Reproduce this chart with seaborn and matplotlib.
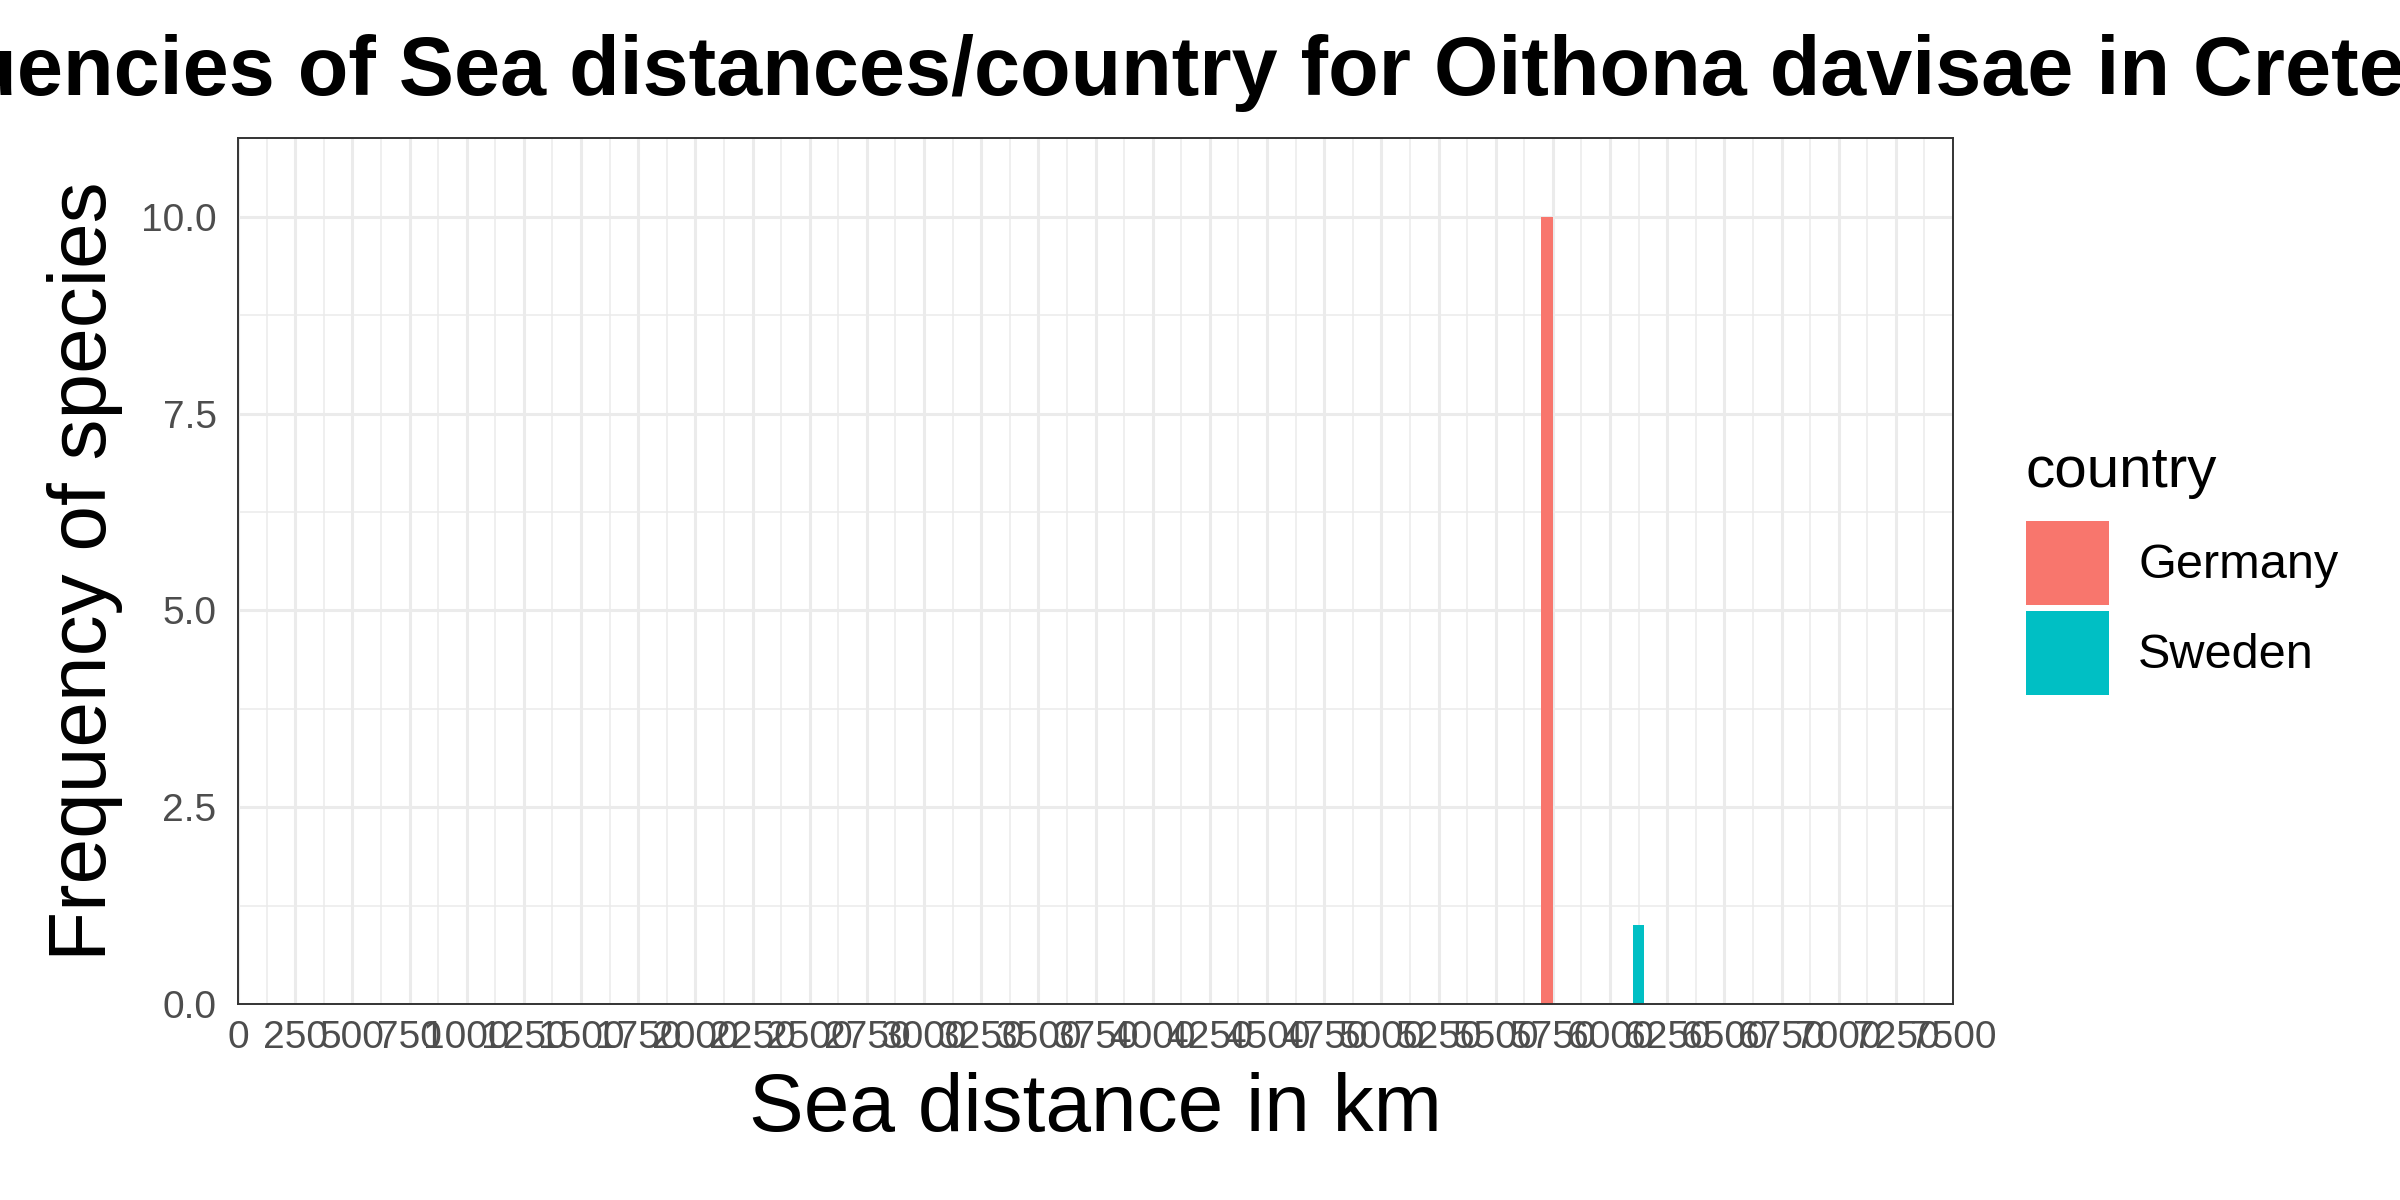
import matplotlib
matplotlib.use('Agg')
import matplotlib.pyplot as plt
from matplotlib.patches import Patch
import pandas as pd
import seaborn as sns

# sea distance (km, bin centre) and number of records, one row per country
distance_km = [5725, 6125]
frequency = [10, 1]
country = ['Germany', 'Sweden']
country_colors = ['#F8766D', '#00BFC4']

x_ticks = list(range(0, 7501, 250))
x_minor = list(range(125, 7500, 250))
y_ticks = [0.0, 2.5, 5.0, 7.5, 10.0]
y_minor = [1.25, 3.75, 6.25, 8.75]

title = 'Frequencies of Sea distances/country for Oithona davisae in Crete'

df = pd.DataFrame({'distance': distance_km, 'frequency': frequency, 'country': country})
palette = dict(zip(country, country_colors))

sns.set_theme(style='white')
plt.rcParams['font.family'] = ['Liberation Sans', 'DejaVu Sans']
plt.rcParams['text.color'] = 'black'
plt.rcParams['axes.labelcolor'] = 'black'
plt.rcParams['axes.titlecolor'] = 'black'

W, H = 2400, 1200
fig = plt.figure(figsize=(12, 6), dpi=200)
# panel box in pixels: left 238, right 1953, top 138, bottom 1004
ax = fig.add_axes([238 / W, 1 - 1004 / H, (1953 - 238) / W, (1004 - 138) / H])

sns.histplot(data=df, x='distance', weights='frequency', hue='country',
             palette=palette, binwidth=50, binrange=(0, 7500), alpha=1,
             linewidth=0, multiple='layer', legend=False, ax=ax)

ax.set_xlim(0, 7500)
ax.set_ylim(0, 11)
ax.set_xticks(x_ticks)
ax.set_xticklabels([str(t) for t in x_ticks])
ax.set_xticks(x_minor, minor=True)
ax.set_yticks(y_ticks)
ax.set_yticklabels([f'{t:.1f}' for t in y_ticks])
ax.set_yticks(y_minor, minor=True)

ax.set_axisbelow(True)
ax.grid(which='major', color='#EBEBEB', linewidth=1.1)
ax.grid(which='minor', color='#EBEBEB', linewidth=0.55)
for side in ['left', 'right', 'top', 'bottom']:
    ax.spines[side].set_visible(True)
    ax.spines[side].set_color('#333333')
    ax.spines[side].set_linewidth(0.7)

ax.tick_params(which='major', length=4.2, width=1.0, color='#333333',
               labelsize=14, labelcolor='#4D4D4D')
ax.tick_params(axis='x', which='major', pad=1.5)
ax.tick_params(axis='y', which='major', pad=3.5)
ax.tick_params(which='minor', length=0)

ax.set_xlabel('Sea distance in km', fontsize=29.5)
ax.set_ylabel('Frequency of species', fontsize=29.5)
ax.xaxis.set_label_coords(0.5, -0.078)
ax.yaxis.set_label_coords(-0.067, 0.5)
ax.set_title(title, fontsize=29.8, fontweight='bold', pad=15.5)

handles = [Patch(facecolor=c, edgecolor='none', label=n)
           for n, c in zip(country, country_colors)]
leg = ax.legend(handles=handles, title='country', loc='upper left',
                bbox_to_anchor=(2026 / W, 1 - 445 / H), bbox_transform=fig.transFigure,
                frameon=False, fontsize=17.5, title_fontsize=21,
                handlelength=1.71, handleheight=2.26, labelspacing=0.14,
                handletextpad=0.6, borderpad=0, borderaxespad=0, alignment='left')
# more room between the legend title and the keys
leg._legend_box.sep = 8

plt.savefig('out.png', dpi=200)
plt.close()
